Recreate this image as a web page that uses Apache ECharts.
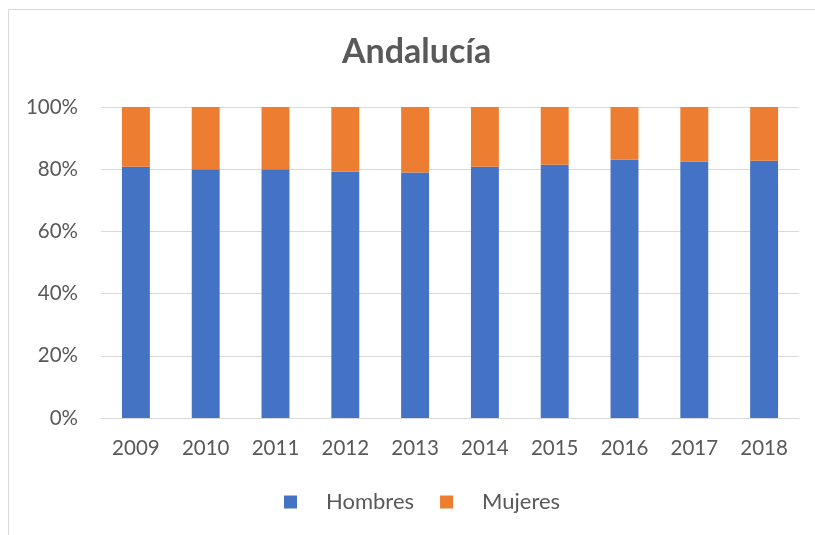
<!DOCTYPE html>
<html>
<head>
<meta charset="utf-8">
<script src="https://cdn.jsdelivr.net/npm/echarts@6/dist/echarts.min.js"></script>
<style>
  html, body { margin: 0; padding: 0; background: #ffffff; }
  #chart { width: 815px; height: 535px; }
</style>
</head>
<body>
<div id="chart"></div>
<script>
var years = ["2009", "2010", "2011", "2012", "2013", "2014", "2015", "2016", "2017", "2018"];
var hombres = [80.8, 80.0, 80.0, 79.2, 78.9, 80.8, 81.4, 83.1, 82.5, 82.7];
var mujeres = [19.2, 20.0, 20.0, 20.8, 21.1, 19.2, 18.6, 16.9, 17.5, 17.3];
var yTicks = [0, 20, 40, 60, 80, 100];

var textColor = "#595959";
var font = "Lato, 'Open Sans', sans-serif";

var chart = echarts.init(document.getElementById("chart"));
chart.setOption({
  animation: false,
  textStyle: { fontFamily: font },
  // outer chart frame, runs off the right and bottom edges like the original
  graphic: [{
    type: "rect",
    shape: { x: 8.5, y: 9.5, width: 900, height: 600 },
    style: { fill: "none", stroke: "#d9d9d9", lineWidth: 1 }
  }],
  title: {
    text: "Andalucía",
    left: 337,
    top: 30,
    textStyle: { fontSize: 34, fontWeight: "bold", color: textColor, fontFamily: font }
  },
  legend: {
    bottom: 17,
    left: 279,
    itemWidth: 13,
    itemHeight: 13,
    itemGap: 26,
    icon: "rect",
    textStyle: { fontSize: 22, color: textColor, padding: [0, 0, 0, 24] },
    data: ["Hombres", "Mujeres"]
  },
  grid: { left: 101, right: 16, top: 107, bottom: 117 },
  xAxis: {
    type: "category",
    data: years,
    axisTick: { show: false },
    axisLine: { lineStyle: { color: "#d9d9d9" } },
    axisLabel: { fontSize: 20.5, color: textColor, margin: 20 }
  },
  yAxis: {
    type: "value",
    min: yTicks[0],
    max: yTicks[yTicks.length - 1],
    interval: 20,
    axisLine: { show: false },
    axisTick: { show: false },
    splitLine: { lineStyle: { color: "#d9d9d9" } },
    axisLabel: { fontSize: 20.5, color: textColor, margin: 23, formatter: "{value}%" }
  },
  series: [
    {
      name: "Hombres",
      type: "bar",
      stack: "total",
      barWidth: "40%",
      itemStyle: { color: "#4472c4" },
      data: hombres
    },
    {
      name: "Mujeres",
      type: "bar",
      stack: "total",
      barWidth: "40%",
      itemStyle: { color: "#ed7d31" },
      data: mujeres
    }
  ]
});
</script>
</body>
</html>
